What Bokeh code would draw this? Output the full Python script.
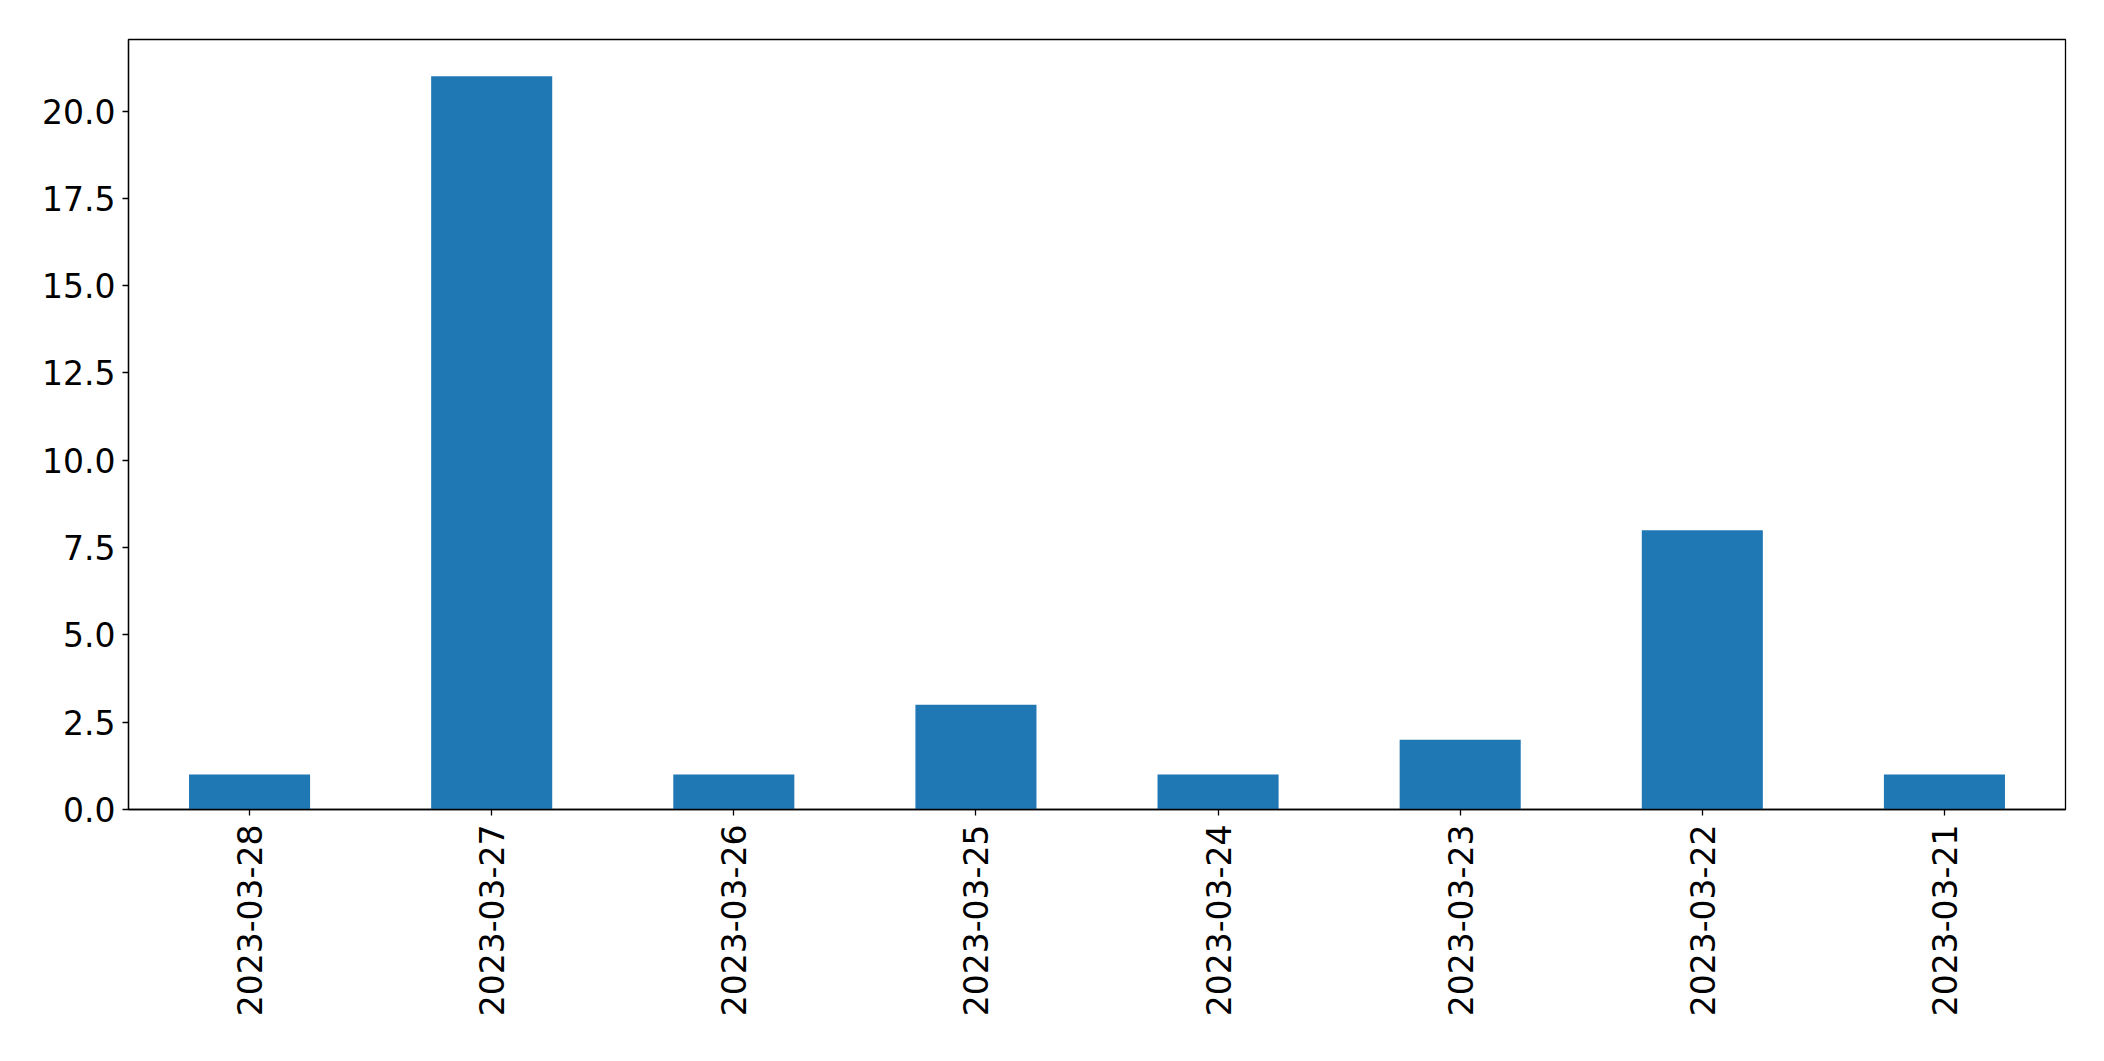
from bokeh.plotting import figure
from bokeh.models import FactorRange, Range1d, FixedTicker, NumeralTickFormatter, ColumnDataSource
from bokeh.embed import file_html
from bokeh.resources import INLINE
import math

dates = ["2023-03-28", "2023-03-27", "2023-03-26", "2023-03-25",
         "2023-03-24", "2023-03-23", "2023-03-22", "2023-03-21"]
counts = [1, 21, 1, 3, 1, 2, 8, 1]
y_ticks = [0, 2.5, 5, 7.5, 10, 12.5, 15, 17.5, 20]

src = ColumnDataSource(dict(dates=dates, counts=counts))

p = figure(width=2088, height=1045, output_backend="svg", toolbar_location=None,
           x_range=FactorRange(*dates), y_range=Range1d(0, max(counts) * 1.05))
p.min_border_left = 128
p.min_border_right = 23
p.min_border_top = 39
p.min_border_bottom = 236

p.vbar(x="dates", top="counts", width=0.5, source=src, color="#1f77b4", line_color=None)

p.xgrid.visible = False
p.ygrid.visible = False
p.outline_line_color = "black"
p.outline_line_width = 1.3
p.outline_line_alpha = 1.0

for ax in (p.xaxis[0], p.yaxis[0]):
    ax.major_label_text_font = "DejaVu Sans"
    ax.major_label_text_font_size = "33px"
    ax.major_label_text_color = "black"
    ax.axis_line_color = "black"
    ax.axis_line_width = 1.3
    ax.major_tick_line_color = "black"
    ax.major_tick_line_width = 1.3
    ax.major_tick_out = 6
    ax.major_tick_in = 0
    ax.minor_tick_line_color = None

p.yaxis[0].ticker = FixedTicker(ticks=y_ticks)
p.yaxis[0].formatter = NumeralTickFormatter(format="0.0")
p.yaxis[0].major_label_standoff = 7
p.xaxis[0].major_label_orientation = math.pi / 2
p.xaxis[0].major_label_standoff = 9

open("out.html", "w").write(file_html(p, INLINE))
